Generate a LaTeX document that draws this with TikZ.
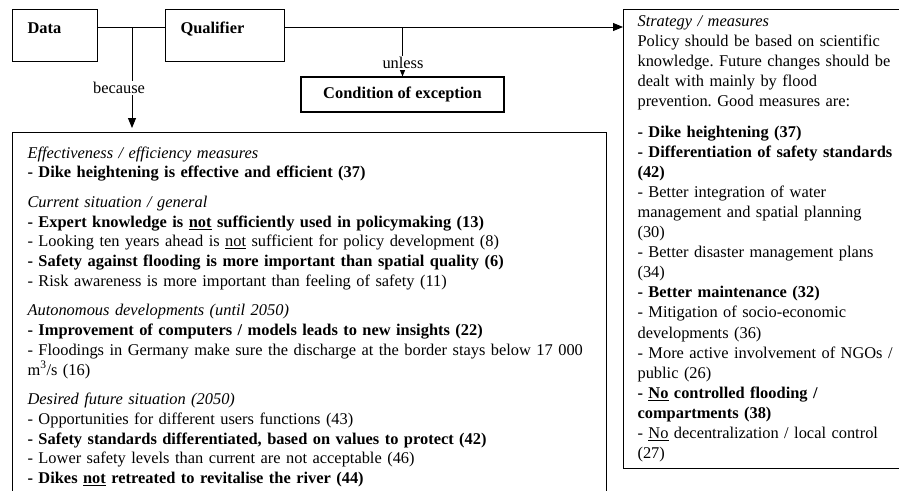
\documentclass[tikz,border=0pt]{standalone}
\usepackage{fontspec}
\setmainfont{Liberation Serif}
\usetikzlibrary{arrows.meta}
\begin{document}
\frenchspacing
\begin{tikzpicture}[x=1pt,y=-1pt,
  txt/.style={font=\fontsize{16.4}{19.7}\selectfont},
  box/.style={draw, line width=1.1pt, inner ysep=0pt, inner xsep=15pt, txt},
  conn/.style={line width=1pt},
  arr/.style={conn, -{Triangle[length=10pt,width=8pt]}},
  lbl/.style={fill=white, inner sep=1pt, txt}]
\useasboundingbox (0,0) rectangle (899,490);
\clip (0,0) rectangle (899,490);
\node[box, anchor=north west, text width=55pt, align=left, text height=24pt, text depth=28pt] (data) at (12,9) {\textbf{Data}};
\node[box, anchor=north west, text width=89pt, align=left, text height=24pt, text depth=28pt] (qual) at (165,9) {\textbf{Qualifier}};
\node[box, inner xsep=0pt, minimum width=203pt, minimum height=35pt] (cond) at (402.5,94.5) {\textbf{Condition of exception}};
\node[box, anchor=north west, text width=564pt, align=left, text height=25.5pt, text depth=345pt] (eff) at (12,132) {%
\textit{Effectiveness / efficiency measures}\\
\textbf{- Dike heightening is effective and efficient (37)}\\[10pt]
\textit{Current situation / general}\\
\textbf{- Expert knowledge is \underline{not} sufficiently used in policymaking (13)}\\
- Looking ten years ahead is \underline{not} sufficient for policy development (8)\\
\textbf{- Safety against flooding is more important than spatial quality (6)}\\
- Risk awareness is more important than feeling of safety (11)\\[10pt]
\textit{Autonomous developments (until 2050)}\\
\textbf{- Improvement of computers / models leads to new insights (22)}\\
- Floodings in Germany make sure the discharge at the border stays below 17~000\\
m\textsuperscript{3}/s (16)\\[10pt]
\textit{Desired future situation (2050)}\\
- Opportunities for different users functions (43)\\
\textbf{- Safety standards differentiated, based on values to protect (42)}\\
- Lower safety levels than current are not acceptable (46)\\
\textbf{- Dikes \underline{not} retreated to revitalise the river (44)}};
\node[box, anchor=north west, text width=270pt, align=left, text height=17pt, text depth=442pt, inner xsep=14pt, font=\fontsize{16.4}{20.1}\selectfont] (strat) at (623,9) {%
\textit{Strategy / measures}\\
Policy should be based on scientific\\
knowledge. Future changes should be\\
dealt with mainly by flood\\
prevention. Good measures are:\\[10pt]
\textbf{- Dike heightening (37)}\\
\textbf{- Differentiation of safety standards}\\
\textbf{(42)}\\
- Better integration of water\\
management and spatial planning\\
(30)\\
- Better disaster management plans\\
(34)\\
\textbf{- Better maintenance (32)}\\
- Mitigation of socio-economic\\
developments (36)\\
- More active involvement of NGOs /\\
public (26)\\
\textbf{- \underline{No} controlled flooding /}\\
\textbf{compartments (38)}\\
- \underline{No} decentralization / local control\\
(27)};
\coordinate (hl) at (0,27);
\draw[conn] (data.east |- hl) -- (qual.west |- hl);
\draw[arr] (qual.east |- hl) -- (strat.west |- hl);
\coordinate (bj) at (132,27);
\draw[arr, shorten >=4pt] (bj) -- (bj |- eff.north);
\node[lbl] (bec) at (119,88) {because};
\coordinate (uj) at (cond.north |- hl);
\draw[arr] (uj) -- (cond.north);
\node[lbl] (unl) at (403,63) {unless};
\end{tikzpicture}
\end{document}
